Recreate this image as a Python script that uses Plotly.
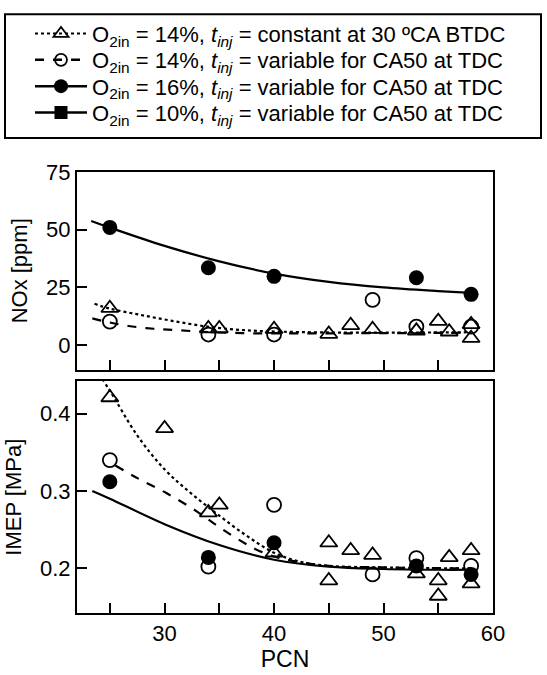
import plotly.graph_objects as go

# ---------------- data ----------------
# NOx [ppm]
nox_tri_x = [25, 34, 35, 40, 45, 47, 49, 53, 55, 56, 58, 58]
nox_tri_y = [16, 7.2, 7.2, 6.9, 4.8, 8.6, 6.9, 6.2, 10.4, 5.8, 9.0, 3.0]
nox_oc_x = [25, 34, 40, 49, 53, 58]
nox_oc_y = [10.2, 4.6, 4.6, 19.6, 8.0, 8.0]
nox_fc_x = [25, 34, 40, 53, 58]
nox_fc_y = [51.0, 33.5, 29.8, 29.2, 22.0]

# NOx trend curves
nox_fit_fc_x = [23.3, 25, 30, 35, 40, 45, 50, 55, 58]
nox_fit_fc_y = [53.8, 50.9, 43.0, 36.3, 31.0, 27.4, 25.0, 23.4, 22.6]
nox_fit_tri_x = [23.6, 25, 27.6, 30.5, 33.5, 36.4, 39.4, 45, 50, 55, 58]
nox_fit_tri_y = [17.9, 15.8, 13.3, 10.7, 8.3, 6.8, 6.0, 5.5, 5.4, 5.5, 5.6]
nox_fit_oc_x = [23.4, 25, 26.7, 29, 31.4, 34, 36.4, 38.8, 45, 50, 55, 58]
nox_fit_oc_y = [11.6, 9.8, 8.3, 7.1, 6.4, 5.7, 5.3, 5.1, 5.1, 5.2, 5.3, 5.4]

# IMEP [MPa]
imep_tri_x = [25, 30, 34, 35, 40, 45, 45, 47, 49, 53, 55, 55, 56, 58, 58]
imep_tri_y = [0.421, 0.381, 0.272, 0.282, 0.22, 0.233, 0.184, 0.223, 0.217,
              0.193, 0.184, 0.164, 0.214, 0.223, 0.18]
imep_oc_x = [25, 34, 40, 49, 53, 58]
imep_oc_y = [0.34, 0.202, 0.282, 0.192, 0.213, 0.203]
imep_fc_x = [25, 34, 40, 53, 58]
imep_fc_y = [0.312, 0.214, 0.233, 0.203, 0.192]

# IMEP trend curves
imep_fit_fc_x = [23.4, 25, 30, 35, 40, 45, 50, 55, 58]
imep_fit_fc_y = [0.300, 0.290, 0.257, 0.230, 0.211, 0.202, 0.199, 0.198, 0.198]
imep_fit_oc_x = [25.5, 27.6, 30.2, 32.9, 34.9, 37, 38.7, 40.5, 45, 50, 55, 58]
imep_fit_oc_y = [0.333, 0.316, 0.297, 0.274, 0.254, 0.235, 0.222, 0.213, 0.203, 0.201, 0.200, 0.200]
imep_fit_tri_x = [24.3, 25, 27.5, 30, 32.5, 35, 37.5, 40, 42.5, 45, 50, 55, 58]
imep_fit_tri_y = [0.445, 0.430, 0.372, 0.328, 0.296, 0.268, 0.242, 0.220, 0.208, 0.203, 0.201, 0.200, 0.200]

legend_names = [
    "O<sub>2in</sub> = 14%, <i>t<sub>inj</sub></i> = constant at 30 ºCA BTDC",
    "O<sub>2in</sub> = 14%, <i>t<sub>inj</sub></i> = variable for CA50 at TDC",
    "O<sub>2in</sub> = 16%, <i>t<sub>inj</sub></i> = variable for CA50 at TDC",
    "O<sub>2in</sub> = 10%, <i>t<sub>inj</sub></i> = variable for CA50 at TDC",
]

# ---------------- figure ----------------
FONT = "Arial, Liberation Sans, Helvetica, sans-serif"
W, H = 547, 675
ML, MR, MT, MB = 77, 54, 165, 57
PH = H - MT - MB
PW = W - ML - MR


def px_x(p):
    return (p - ML) / PW


def px_y(p):
    return (H - MB - p) / PH


fig = go.Figure()

tri = dict(symbol="triangle-up-open", size=15, color="black", line=dict(width=1.8, color="black"))
oc = dict(symbol="circle-open", size=14, color="black", line=dict(width=1.8, color="black"))
fc = dict(symbol="circle", size=15, color="black", line=dict(width=0))
sq = dict(symbol="square", size=13, color="black", line=dict(width=0))

lw = 2.2
# top panel
fig.add_trace(go.Scatter(x=nox_fit_fc_x, y=nox_fit_fc_y, mode="lines", line=dict(color="black", width=lw, shape="spline"), showlegend=False, xaxis="x", yaxis="y"))
fig.add_trace(go.Scatter(x=nox_fit_tri_x, y=nox_fit_tri_y, mode="lines", line=dict(color="black", width=lw, dash="dot", shape="spline"), showlegend=False, xaxis="x", yaxis="y"))
fig.add_trace(go.Scatter(x=nox_fit_oc_x, y=nox_fit_oc_y, mode="lines", line=dict(color="black", width=lw, dash="dash", shape="spline"), showlegend=False, xaxis="x", yaxis="y"))
fig.add_trace(go.Scatter(x=nox_fc_x, y=nox_fc_y, mode="markers", marker=fc, showlegend=False, xaxis="x", yaxis="y"))
fig.add_trace(go.Scatter(x=nox_oc_x, y=nox_oc_y, mode="markers", marker=oc, showlegend=False, xaxis="x", yaxis="y"))
fig.add_trace(go.Scatter(x=nox_tri_x, y=nox_tri_y, mode="markers", marker=tri, showlegend=False, xaxis="x", yaxis="y"))

# bottom panel
fig.add_trace(go.Scatter(x=imep_fit_fc_x, y=imep_fit_fc_y, mode="lines", line=dict(color="black", width=lw, shape="spline"), showlegend=False, xaxis="x2", yaxis="y2"))
fig.add_trace(go.Scatter(x=imep_fit_tri_x, y=imep_fit_tri_y, mode="lines", line=dict(color="black", width=lw, dash="dot", shape="spline"), showlegend=False, xaxis="x2", yaxis="y2"))
fig.add_trace(go.Scatter(x=imep_fit_oc_x, y=imep_fit_oc_y, mode="lines", line=dict(color="black", width=lw, dash="dash", shape="spline"), showlegend=False, xaxis="x2", yaxis="y2"))
fig.add_trace(go.Scatter(x=imep_fc_x, y=imep_fc_y, mode="markers", marker=fc, showlegend=False, xaxis="x2", yaxis="y2"))
fig.add_trace(go.Scatter(x=imep_oc_x, y=imep_oc_y, mode="markers", marker=oc, showlegend=False, xaxis="x2", yaxis="y2"))
fig.add_trace(go.Scatter(x=imep_tri_x, y=imep_tri_y, mode="markers", marker=tri, showlegend=False, xaxis="x2", yaxis="y2"))

# legend-only traces, one legend per row for exact row placement
leg_styles = [
    (dict(tri, size=13), dict(color="black", width=2, dash="dot")),
    (dict(oc, size=12), dict(color="black", width=2.5, dash="dash")),
    (dict(fc, size=14), dict(color="black", width=2.5)),
    (dict(sq, size=13), dict(color="black", width=2.5)),
]
leg_ids = ["legend", "legend2", "legend3", "legend4"]
leg_rows = [23, 50, 77, 104]
for name, (mk, ln), lid in zip(legend_names, leg_styles, leg_ids):
    fig.add_trace(go.Scatter(x=[None], y=[None], mode="lines+markers", marker=mk, line=ln,
                             name=name, showlegend=True, legend=lid, xaxis="x", yaxis="y"))

top_dom = [px_y(368), 1.0]
bot_dom = [0.0, px_y(380)]

axis_common = dict(showline=True, linecolor="black", linewidth=2, mirror=True,
                   ticks="inside", ticklen=10, tickwidth=2, tickcolor="black",
                   showgrid=False, zeroline=False,
                   tickfont=dict(family=FONT, size=22, color="black"))

legend_common = dict(xanchor="left", yanchor="middle", bgcolor="rgba(0,0,0,0)", borderwidth=0,
                     font=dict(family=FONT, size=22, color="black"), itemwidth=52)

layout_legends = {}
for lid, row in zip(leg_ids, leg_rows):
    layout_legends[lid] = dict(legend_common, x=px_x(30), y=px_y(row))

fig.update_layout(
    width=W, height=H,
    margin=dict(l=ML, r=MR, t=MT, b=MB),
    paper_bgcolor="white", plot_bgcolor="white",
    font=dict(family=FONT, color="black"),
    xaxis=dict(axis_common, domain=[0, 1], range=[22, 60], anchor="y",
               tickvals=[25, 30, 35, 40, 45, 50, 55], showticklabels=False),
    yaxis=dict(axis_common, domain=top_dom, range=[-10.6, 75], anchor="x",
               tickvals=[0, 25, 50, 75],
               title=dict(text="NOx [ppm]", font=dict(family=FONT, size=22), standoff=12)),
    xaxis2=dict(axis_common, domain=[0, 1], range=[22, 60], anchor="y2",
                tickvals=[25, 30, 35, 40, 45, 50, 55, 60],
                ticktext=["", "30", "", "40", "", "50", "", "60"],
                title=dict(text="PCN", font=dict(family=FONT, size=23), standoff=0)),
    yaxis2=dict(axis_common, domain=bot_dom, range=[0.142, 0.442], anchor="x2",
                tickvals=[0.2, 0.3, 0.4], tickformat=".1f",
                title=dict(text="IMEP [MPa]", font=dict(family=FONT, size=22), standoff=12)),
    shapes=[dict(type="rect", xref="paper", yref="paper",
                 x0=px_x(5), x1=px_x(541), y0=px_y(130), y1=px_y(3),
                 line=dict(color="black", width=2), fillcolor="rgba(0,0,0,0)")],
    **layout_legends,
)

fig.write_html("out.html")
